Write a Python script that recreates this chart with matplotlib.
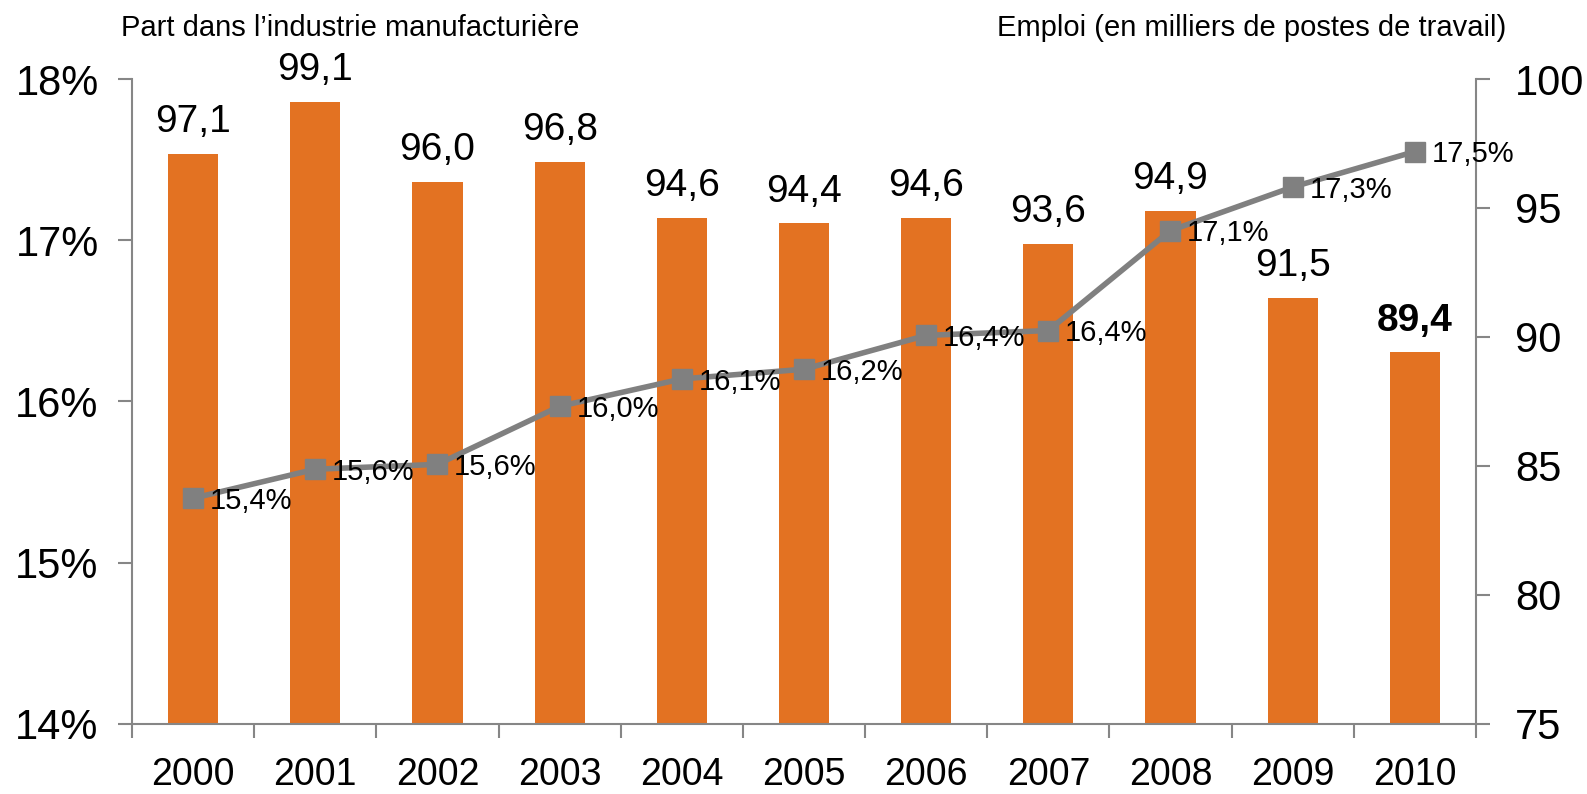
import numpy as np
import matplotlib
matplotlib.use("Agg")
import matplotlib.pyplot as plt
from matplotlib.ticker import FixedLocator

plt.rcParams['font.family'] = ['Liberation Sans', 'DejaVu Sans']

# données
annees = ['2000', '2001', '2002', '2003', '2004', '2005', '2006', '2007', '2008', '2009', '2010']
emploi = [97.1, 99.1, 96.0, 96.8, 94.6, 94.4, 94.6, 93.6, 94.9, 91.5, 89.4]
part = [15.4, 15.58, 15.61, 15.97, 16.14, 16.2, 16.41, 16.44, 17.06, 17.33, 17.55]
part_labels = ['15,4%', '15,6%', '15,6%', '16,0%', '16,1%', '16,2%', '16,4%', '16,4%', '17,1%', '17,3%', '17,5%']
pct_ticks = [14, 15, 16, 17, 18]
emploi_ticks = [75, 80, 85, 90, 95, 100]

orange = '#E37222'
gris = '#808080'
axe = '#868686'

fig = plt.figure(figsize=(15.87, 7.94), dpi=100)
ax = fig.add_axes([0.0832, 0.0882, 0.8468, 0.8123])
x = np.arange(len(annees))

# barres (axe de droite)
ax.bar(x, emploi - np.full(len(emploi), 75.0), bottom=75, width=0.41, color=orange, zorder=2)
ax.set_ylim(75, 100)
ax.set_xlim(-0.5, len(annees) - 0.5)
ax.hlines([(p - 14) / 4 for p in pct_ticks], 0, 1, transform=ax.get_yaxis_transform(),
          color=axe, lw=1.5, zorder=1)
for i, v in enumerate(emploi):
    lab = ('%.1f' % v).replace('.', ',')
    ax.annotate(lab, (x[i], v), xytext=(0, 10), textcoords='offset points',
                ha='center', va='bottom', fontsize=28,
                fontweight='bold' if i == len(emploi) - 1 else 'normal')

ax.set_xticks(x)
ax.set_xticklabels(annees)
ax.xaxis.set_minor_locator(FixedLocator(np.arange(-0.5, len(annees), 1.0)))
ax.tick_params(axis='x', which='major', length=0, labelsize=27, pad=24)
ax.tick_params(axis='x', which='minor', length=10, width=1.5, color=axe)
ax.spines['top'].set_visible(False)
for s in ['left', 'right', 'bottom']:
    ax.spines[s].set_color(axe)
    ax.spines[s].set_linewidth(1.5)

# courbe (axe de gauche)
ax2 = ax.twinx()
ax.yaxis.tick_right()
ax.set_yticks(emploi_ticks)
ax.tick_params(axis='y', which='major', length=10, width=1.5, color=axe, labelsize=30, pad=18)
ax2.yaxis.tick_left()
ax2.plot(x, part, color=gris, lw=4, marker='s', markersize=15, zorder=3)
ax2.set_ylim(14, 18)
ax2.set_yticks(pct_ticks)
ax2.set_yticklabels(['%d%%' % p for p in pct_ticks])
ax2.tick_params(axis='y', length=10, width=1.5, color=axe, labelsize=30, pad=14)
for s in ax2.spines.values():
    s.set_visible(False)
for i, v in enumerate(part):
    ax2.annotate(part_labels[i], (x[i], v), xytext=(12, -2), textcoords='offset points',
                 ha='left', va='center', fontsize=21)

fig.text(121 / 1587, 1 - 28 / 794, 'Part dans l\u2019industrie manufacturi\u00e8re',
         fontsize=21, ha='left', va='center')
fig.text(1506 / 1587, 1 - 28 / 794, 'Emploi (en milliers de postes de travail)',
         fontsize=21, ha='right', va='center')

fig.savefig('out.png', dpi=100)
